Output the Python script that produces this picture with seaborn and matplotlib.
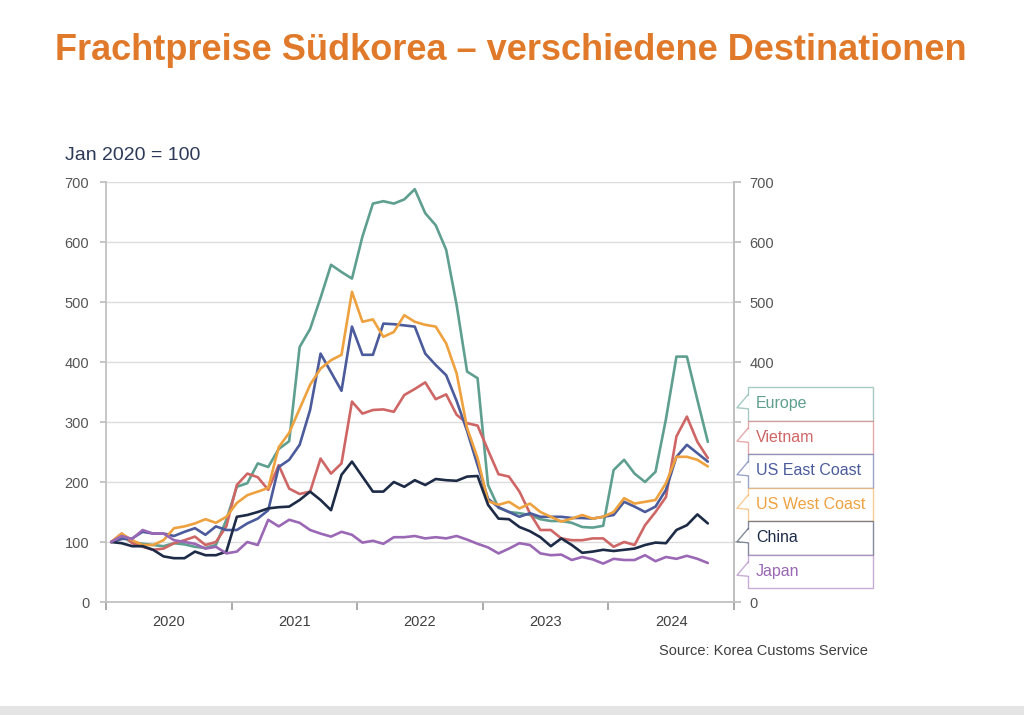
import pandas as pd
import matplotlib
matplotlib.use("Agg")
import matplotlib.pyplot as plt
import seaborn as sns
from matplotlib.patches import Rectangle, Polygon
from matplotlib.lines import Line2D

# monthly freight index, Jan 2020 = 100 (Jan 2020 .. Oct 2024)
europe = [100, 108, 100, 97, 95, 93, 98, 96, 92, 90, 95, 137,
          192, 198, 231, 225, 255, 268, 425, 455, 507, 562, 550, 539,
          609, 664, 668, 664, 671, 688, 648, 628, 587, 495, 384, 373,
          195, 157, 150, 148, 145, 138, 135, 135, 132, 125, 124, 127,
          220, 237, 214, 200, 217, 305, 409, 409, 337, 267]
vietnam = [100, 114, 98, 92, 87, 89, 98, 103, 109, 95, 100, 126,
           195, 214, 208, 187, 228, 189, 180, 184, 239, 214, 231, 334,
           314, 320, 321, 317, 345, 355, 366, 338, 346, 312, 298, 294,
           253, 213, 209, 184, 148, 120, 120, 106, 103, 103, 106, 106,
           92, 100, 95, 128, 150, 175, 276, 309, 267, 240]
us_east = [100, 105, 106, 117, 114, 114, 110, 117, 123, 112, 126, 120,
           120, 131, 139, 153, 225, 237, 262, 320, 414, 383, 352, 459,
           412, 412, 464, 463, 461, 459, 414, 395, 378, 335, 285, 228,
           172, 158, 150, 142, 148, 142, 142, 142, 140, 140, 139, 142,
           145, 167, 159, 150, 159, 187, 242, 262, 248, 234]
us_west = [100, 114, 103, 95, 95, 103, 123, 126, 131, 138, 132, 142,
           165, 178, 184, 190, 258, 282, 322, 362, 389, 403, 412, 517,
           467, 471, 442, 450, 478, 467, 462, 459, 431, 381, 290, 240,
           168, 162, 167, 156, 164, 150, 142, 134, 139, 145, 139, 142,
           150, 173, 164, 167, 170, 198, 242, 242, 237, 226]
china = [100, 98, 93, 93, 87, 76, 73, 73, 84, 78, 78, 84,
         142, 145, 150, 156, 158, 159, 170, 184, 170, 153, 212, 234,
         209, 184, 184, 200, 192, 203, 195, 205, 203, 202, 209, 210,
         162, 139, 138, 125, 118, 108, 93, 106, 95, 82, 84, 87,
         85, 87, 89, 95, 99, 98, 120, 128, 146, 131]
japan = [100, 110, 105, 120, 114, 114, 103, 100, 97, 89, 92, 81,
         84, 100, 95, 137, 126, 137, 132, 120, 114, 109, 117, 112,
         99, 102, 97, 108, 108, 110, 106, 108, 106, 110, 104, 97,
         91, 81, 89, 98, 95, 81, 78, 79, 70, 75, 71, 64,
         72, 70, 70, 78, 68, 75, 72, 77, 72, 65]

series = ["Europe", "Vietnam", "US East Coast", "US West Coast", "China", "Japan"]
values = [europe, vietnam, us_east, us_west, china, japan]
colors = ["#5f9f8f", "#cf6666", "#4b5b9c", "#eea23f", "#1d2b47", "#9a68b5"]
years = ["2020", "2021", "2022", "2023", "2024"]

months = pd.date_range("2020-01-01", periods=len(europe), freq="MS")
t = months.year + (months.month - 0.5) / 12

frames = []
for name, v in zip(series, values):
    frames.append(pd.DataFrame({"t": t, "value": v, "series": name}))
df = pd.concat(frames, ignore_index=True)

sns.set_theme(style="white")
plt.rcParams["font.family"] = ["Liberation Sans", "DejaVu Sans"]

W, H = 1024, 715
fig = plt.figure(figsize=(W / 100, H / 100), dpi=100)
fig.patch.set_facecolor("white")

def fx(px):
    return px / W

def fy(py):
    return 1 - py / H

ax = fig.add_axes([fx(106), fy(602), fx(734) - fx(106), fy(182) - fy(602)])
sns.lineplot(data=df, x="t", y="value", hue="series", hue_order=series,
             palette=colors, linewidth=1.9, legend=False, ax=ax)

ax.set_xlim(2020, 2025)
ax.set_ylim(0, 700)
ax.set_yticks(range(0, 701, 100))
ax.yaxis.grid(True, color="#dcdcdc", linewidth=1)
ax.set_axisbelow(True)
ax.set_xlabel("")
ax.set_ylabel("")
for s in ["left", "right", "bottom"]:
    ax.spines[s].set_color("#bfbfbf")
ax.spines["top"].set_visible(False)

ax.set_xticks(range(2020, 2026))
ax.set_xticklabels([])
ax.set_xticks([2020.5 + i for i in range(len(years))], minor=True)
ax.set_xticklabels(years, minor=True)
ax.tick_params(axis="x", which="major", direction="out", length=6, color="#a0a0a0", bottom=True)
ax.tick_params(axis="x", which="minor", length=0, pad=9, labelsize=10.5, labelcolor="#404040")
ax.tick_params(axis="y", direction="out", length=4, color="#bfbfbf", left=True,
               labelsize=10.5, labelcolor="#555555", pad=8)

ax2 = ax.twinx()
ax2.set_ylim(0, 700)
ax2.set_yticks(range(0, 701, 100))
ax2.set_yticklabels(["0", "", "", "", "400", "500", "600", "700"])
ax2.tick_params(axis="y", direction="out", length=5, color="#bfbfbf", right=True,
                labelsize=10.5, labelcolor="#555555", pad=6)
ax2.grid(False)
for s in ["left", "top", "bottom"]:
    ax2.spines[s].set_visible(False)
ax2.spines["right"].set_color("#bfbfbf")

# callout legend on the right
box_top, box_h = 387, 33.5
for k, (name, c) in enumerate(zip(series, colors)):
    top = box_top + k * box_h
    mid = top + box_h / 2
    edge = matplotlib.colors.to_rgba(c, 0.55)
    rect = Rectangle((fx(748), fy(top + box_h)), fx(873) - fx(748), box_h / H,
                     transform=fig.transFigure, facecolor="white",
                     edgecolor=edge, linewidth=1, zorder=5)
    fig.add_artist(rect)
    # pointer: white wedge over the box edge, then two arms
    gap = Polygon([(fx(749.5), fy(mid - 9)), (fx(737), fy(mid + 4)), (fx(749.5), fy(mid + 5))],
                  closed=True, transform=fig.transFigure, facecolor="white",
                  edgecolor="none", zorder=6)
    fig.add_artist(gap)
    arms = Line2D([fx(748), fx(737), fx(748)], [fy(mid - 9), fy(mid + 4), fy(mid + 5)],
                  transform=fig.transFigure, color=edge, linewidth=1, zorder=6.5)
    fig.add_artist(arms)
    fig.text(fx(756), fy(mid), name, color=c, fontsize=11.5, va="center", ha="left", zorder=7)

fig.text(fx(55), fy(50), "Frachtpreise Südkorea – verschiedene Destinationen",
         fontsize=26, fontweight="bold", color="#e07a2a", va="center", ha="left")
fig.text(fx(65), fy(155), "Jan 2020 = 100", fontsize=14, color="#2d3a57", va="center", ha="left")
fig.text(fx(868), fy(651), "Source: Korea Customs Service", fontsize=10.5, color="#404040",
         va="center", ha="right")

fig.add_artist(Rectangle((0, 0), 1, 9 / H, transform=fig.transFigure,
                         facecolor="#e4e4e4", edgecolor="none", zorder=1))

fig.savefig("out.png", dpi=100)
